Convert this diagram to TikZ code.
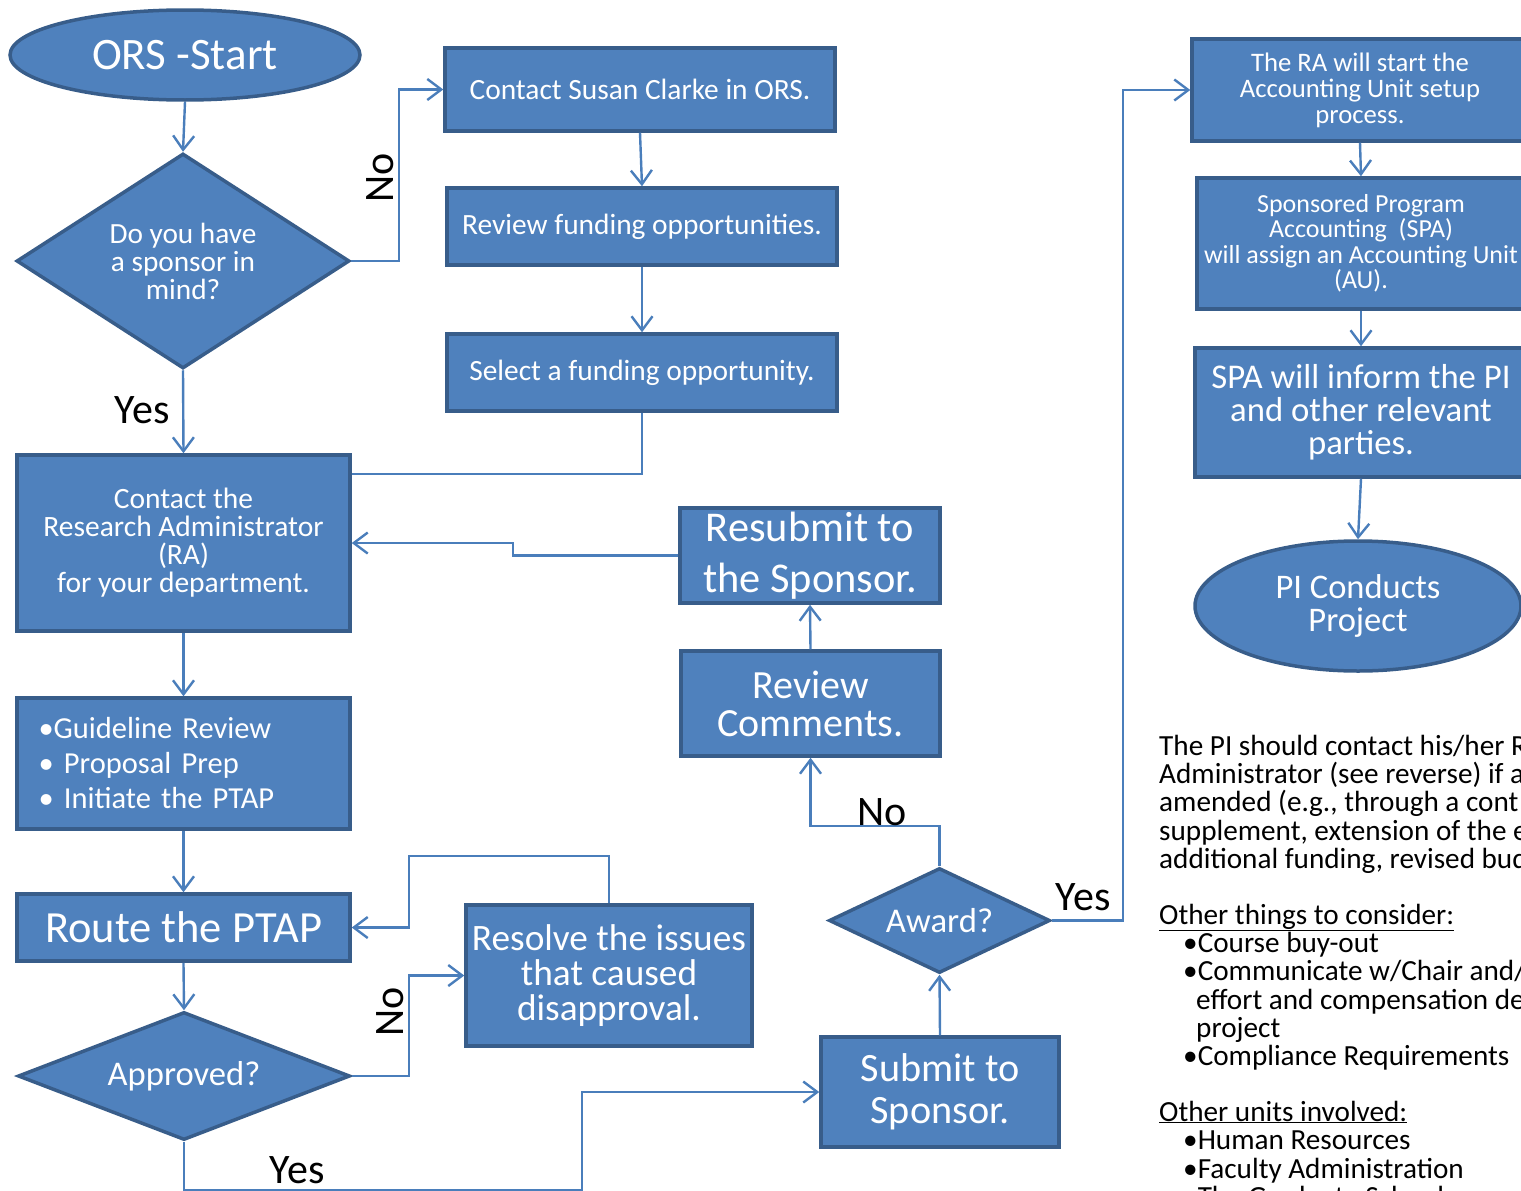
\documentclass[tikz,border=0pt]{standalone}
\usepackage{fontspec}
\setmainfont{Carlito}
\usetikzlibrary{shapes.geometric,arrows.meta,backgrounds}
\definecolor{boxfill}{HTML}{4F81BD}
\definecolor{boxline}{HTML}{385D8A}
\definecolor{linkcol}{HTML}{4A7EBB}
\newcommand{\fs}[2]{\fontsize{#1}{#2}\selectfont}

\begin{document}
\begin{tikzpicture}[x=1pt,y=-1pt,
  box/.style={draw=boxline,fill=boxfill,line width=3.5pt,text=white,align=center,inner sep=0pt},
  decision/.style={box,diamond},
  terminal/.style={box,ellipse},
  flow/.style={draw=linkcol,line width=2.4pt,-{Straight Barb[length=14pt,width=21pt]}},
  lbl/.style={text=black,inner sep=0pt,font=\fs{42}{42}},
  note/.style={anchor=base west,inner sep=0pt,text=black,font=\fs{29.2}{28}}]
\useasboundingbox (0,0) rectangle (1521,1191);
\clip (0,0) rectangle (1521,1191);

% left column
\node[terminal,minimum width=350pt,minimum height=90pt,font=\fs{45}{45}] (start) at (185,55) {ORS -Start};
\node[decision,aspect=1.55,minimum width=333pt,minimum height=215pt,font=\fs{29.3}{28}] (sponsorq) at (183,261) {Do you have\\a sponsor in\\mind?};
\node[box,minimum width=333pt,minimum height=176pt,font=\fs{29.5}{28}] (ra) at (183.5,543) {Contact the\\Research Administrator\\(RA)\\for your department.};
\node[box,minimum width=333pt,minimum height=131pt,text width=290pt,align=left,font=\fs{30.5}{35}] (guide) at (183.5,763.5) {•Guideline Review\\• Proposal Prep\\• Initiate the PTAP};
\node[box,minimum width=333pt,minimum height=67pt,font=\fs{44.5}{44}] (route) at (183.5,927.5) {Route the PTAP};
\node[decision,aspect=2.6,minimum width=332pt,minimum height=128pt,font=\fs{34.6}{34}] (approved) at (184,1076) {Approved?};

% middle column
\node[box,minimum width=390pt,minimum height=83pt,font=\fs{29.4}{29}] (susan) at (640,89.5) {Contact Susan Clarke in ORS.};
\node[box,minimum width=390pt,minimum height=77pt,font=\fs{29.4}{29}] (funding) at (642,226.5) {Review funding opportunities.};
\node[box,minimum width=390pt,minimum height=77pt,font=\fs{29.4}{29}] (select) at (642,372.5) {Select a funding opportunity.};
\node[box,minimum width=286pt,minimum height=141pt,font=\fs{37.3}{35}] (resolve) at (609,975.5) {Resolve the issues\\that caused\\disapproval.};
\node[box,minimum width=260pt,minimum height=95pt,font=\fs{42.4}{51}] (resubmit) at (810,555.5) {Resubmit to\\the Sponsor.};
\node[box,minimum width=259pt,minimum height=105pt,font=\fs{40}{38}] (comments) at (810.5,703.5) {Review\\Comments.};
\node[decision,aspect=2.1,minimum width=221pt,minimum height=105pt,font=\fs{34.7}{34}] (award) at (939.5,920.5) {Award?};
\node[box,minimum width=238pt,minimum height=110pt,font=\fs{40.2}{42}] (submit) at (940,1092) {Submit to\\Sponsor.};

% right column
\node[box,minimum width=336pt,minimum height=102pt,font=\fs{26.7}{26}] (setup) at (1360,90) {The RA will start the\\Accounting Unit setup\\process.};
\node[box,minimum width=328pt,minimum height=131pt,font=\fs{26}{25.5}] (assign) at (1361,243.5) {Sponsored Program\\Accounting~~(SPA)\\will assign an Accounting Unit\\(AU).};
\node[box,minimum width=332pt,minimum height=129pt,font=\fs{34.7}{33}] (inform) at (1361,412.5) {SPA will inform the PI\\and other relevant\\parties.};
\node[terminal,minimum width=326pt,minimum height=130pt,font=\fs{34.5}{33}] (project) at (1358,606) {PI Conducts\\Project};

% connectors
\draw[flow] (start.south) -- (sponsorq.north);
\draw[flow] (sponsorq.east) -- ++(48,0) |- (susan.west);
\draw[flow] (susan.south) -- (funding.north);
\draw[flow] (funding.south) -- (select.north);
\begin{scope}[on background layer]
\draw[flow] (select.south) |- ([xshift=-53pt,yshift=-21pt]ra.north east);
\end{scope}
\draw[flow] (sponsorq.south) -- (ra.north);
\draw[flow] (resubmit.west) -- ++(-165,0) |- (ra.east);
\draw[flow] (ra.south) -- (guide.north);
\draw[flow] (guide.south) -- (route.north);
\draw[flow] (route.south) -- (approved.north);
\draw[flow] (approved.east) -- ++(57,0) |- (resolve.west);
\draw[flow] (resolve.north) -- ++(0,-47) -| ([xshift=57pt]route.east) -- (route.east);
\draw[flow] (approved.south) -- ++(0,48) -| ([xshift=-237pt]submit.west) -- (submit.west);
\draw[flow] (submit.north) -- (award.south);
\draw[flow] (award.north) -- ++(0,-40) -| (comments.south);
\draw[flow] (comments.north) -- (resubmit.south);
\draw[flow] (award.east) -- ++(71,0) |- (setup.west);
\draw[flow] (setup.south) -- (assign.north);
\draw[flow] (assign.south) -- (inform.north);
\draw[flow] (inform.south) -- (project.north);

% branch labels
\node[lbl,rotate=90] (no1) at (380,178) {No};
\node[lbl] (yes1) at (142,410) {Yes};
\node[lbl,rotate=90] (no2) at (390,1012) {No};
\node[lbl] (yes2) at (297,1170) {Yes};
\node[lbl] (no3) at (882,812) {No};
\node[lbl] (yes3) at (1083,897) {Yes};

% notes on the right (cut at the page edge as in the original)
\foreach \xx/\yy/\txt [count=\i] in {
  1159/755/{The PI should contact his/her R},
  1159/783/{Administrator (see reverse) if a},
  1159/811/{amended (e.g., through a cont},
  1159/840/{supplement, extension of the e},
  1159/868/{additional funding, revised bud},
  1159/924/{\underline{Other things to consider:}},
  1183/952/{•Course buy-out},
  1183/980/{•Communicate w/Chair and/},
  1196/1009/{effort and compensation de},
  1196/1037/{project},
  1183/1065/{•Compliance Requirements},
  1159/1121/{\underline{Other units involved:}},
  1183/1149/{•Human Resources},
  1183/1178/{•Faculty Administration},
  1183/1206/{•The Graduate School}}
  \node[note] (note\i) at (\xx,\yy) {\txt};
\end{tikzpicture}
\end{document}
